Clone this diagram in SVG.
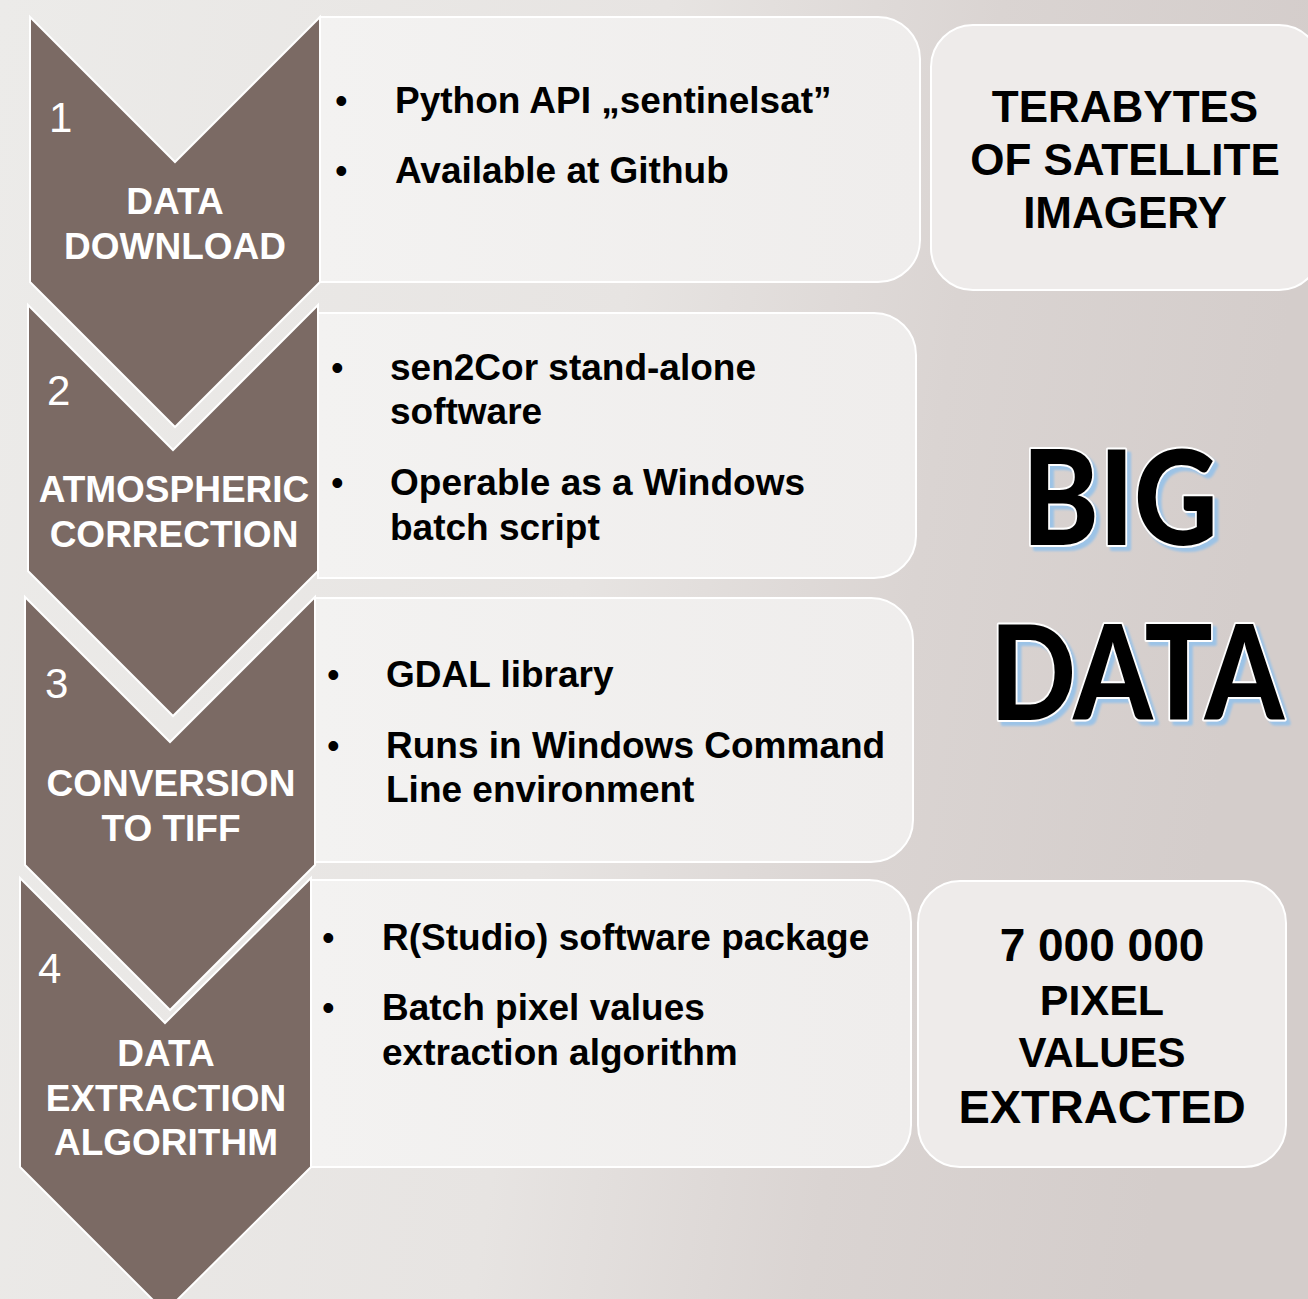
<svg xmlns="http://www.w3.org/2000/svg" width="1308" height="1299" viewBox="0 0 1308 1299">
<defs>
<linearGradient id="bg" x1="0" y1="0" x2="1" y2="0.15">
<stop offset="0" stop-color="#ecebe9"/>
<stop offset="0.5" stop-color="#e7e4e2"/>
<stop offset="0.75" stop-color="#dad4d2"/>
<stop offset="1" stop-color="#d4cdcb"/>
</linearGradient>
<linearGradient id="boxfill" x1="0" y1="0" x2="1" y2="0">
<stop offset="0" stop-color="#f3f2f1"/>
<stop offset="1" stop-color="#efedec"/>
</linearGradient>
<filter id="blueshadow" x="-10%" y="-10%" width="130%" height="130%">
<feFlood flood-color="#9cc3e6" result="c"/>
<feComposite in="c" in2="SourceAlpha" operator="in" result="s"/>
<feOffset in="s" dx="4" dy="4" result="o"/>
<feGaussianBlur in="o" stdDeviation="0.8" result="b"/>
<feMerge><feMergeNode in="b"/><feMergeNode in="SourceGraphic"/></feMerge>
</filter>
</defs>
<style>
.chev{fill:#7b6a64;stroke:#ffffff;stroke-width:2;stroke-linejoin:miter}
.box{fill:url(#boxfill);stroke:#ffffff;stroke-width:2}
.rbox{fill:#eeebea;stroke:#ffffff;stroke-width:2}
.num{font-family:"Liberation Sans",Arial,sans-serif;font-size:42px;fill:#ffffff}
.lab{font-family:"Liberation Sans",Arial,sans-serif;font-size:37px;font-weight:bold;fill:#ffffff;text-anchor:middle}
.bul{font-family:"Liberation Sans",Arial,sans-serif;font-size:36px;fill:#000000}
.txt{font-family:"Liberation Sans",Arial,sans-serif;font-size:37px;font-weight:bold;fill:#000000}
.rt{font-family:"Liberation Sans",Arial,sans-serif;font-weight:bold;fill:#000000;text-anchor:middle}
.big{font-family:Lato,"Open Sans",sans-serif;font-size:132px;font-weight:900;fill:#000000;stroke:#ffffff;stroke-width:4;stroke-linejoin:round;paint-order:stroke}
</style>
<rect x="0" y="0" width="1308" height="1299" fill="url(#bg)"/>

<g id="box1"><path class="box" d="M320,17 H878 A42,42 0 0 1 920,59 V240 A42,42 0 0 1 878,282 H320 Z"/>
<text class="bul" x="335" y="113">•</text><text class="txt" x="395" y="113">Python API „sentinelsat”</text>
<text class="bul" x="335" y="183">•</text><text class="txt" x="395" y="183">Available at Github</text></g>

<g id="box2"><path class="box" d="M318,313 H874 A42,42 0 0 1 916,355 V536 A42,42 0 0 1 874,578 H318 Z"/>
<text class="bul" x="331" y="380">•</text><text class="txt" x="390" y="380">sen2Cor stand-alone</text>
<text class="txt" x="390" y="424">software</text>
<text class="bul" x="331" y="495">•</text><text class="txt" x="390" y="495">Operable as a Windows</text>
<text class="txt" x="390" y="540">batch script</text></g>

<g id="box3"><path class="box" d="M315,598 H871 A42,42 0 0 1 913,640 V820 A42,42 0 0 1 871,862 H315 Z"/>
<text class="bul" x="327" y="687">•</text><text class="txt" x="386" y="687">GDAL library</text>
<text class="bul" x="327" y="758">•</text><text class="txt" x="386" y="758">Runs in Windows Command</text>
<text class="txt" x="386" y="802">Line environment</text></g>

<g id="box4"><path class="box" d="M311,880 H869 A42,42 0 0 1 911,922 V1125 A42,42 0 0 1 869,1167 H311 Z"/>
<text class="bul" x="322" y="950">•</text><text class="txt" x="382" y="950">R(Studio) software package</text>
<text class="bul" x="322" y="1020">•</text><text class="txt" x="382" y="1020">Batch pixel values</text>
<text class="txt" x="382" y="1065">extraction algorithm</text></g>

<g id="chevron4"><polygon class="chev" points="20,878 165,1023 311,878 311,1167 165,1312 20,1167"/>
<text class="num" x="38" y="983">4</text>
<text class="lab" x="166" y="1066">DATA</text><text class="lab" x="166" y="1111">EXTRACTION</text><text class="lab" x="166" y="1155">ALGORITHM</text></g>

<g id="chevron3"><polygon class="chev" points="25,597 170,742 315,597 315,865 170,1010 25,865"/>
<text class="num" x="45" y="698">3</text>
<text class="lab" x="171" y="796">CONVERSION</text><text class="lab" x="171" y="841">TO TIFF</text></g>

<g id="chevron2"><polygon class="chev" points="28,305 173,450 318,305 318,571 173,716 28,571"/>
<text class="num" x="47" y="405">2</text>
<text class="lab" x="174" y="502">ATMOSPHERIC</text><text class="lab" x="174" y="547">CORRECTION</text></g>

<g id="chevron1"><polygon class="chev" points="30,17 175,162 320,17 320,282 175,427 30,282"/>
<text class="num" x="49" y="132">1</text>
<text class="lab" x="175" y="214">DATA</text><text class="lab" x="175" y="259">DOWNLOAD</text></g>

<g id="terabytes"><rect class="rbox" x="931" y="25" width="390" height="265" rx="42" ry="42"/>
<text class="rt" x="1125" y="122" font-size="44">TERABYTES</text>
<text class="rt" x="1125" y="175" font-size="44">OF SATELLITE</text>
<text class="rt" x="1125" y="228" font-size="44">IMAGERY</text></g>

<g id="pixels"><rect class="rbox" x="918" y="881" width="368" height="286" rx="42" ry="42"/>
<text class="rt" x="1102" y="961" font-size="46">7 000 000</text>
<text class="rt" x="1102" y="1015" font-size="43">PIXEL</text>
<text class="rt" x="1102" y="1067" font-size="42">VALUES</text>
<text class="rt" x="1102" y="1123" font-size="47">EXTRACTED</text></g>

<g id="bigdata" filter="url(#blueshadow)">
<text class="big" x="1022" y="545" textLength="196" lengthAdjust="spacingAndGlyphs">BIG</text>
<text class="big" x="990" y="720" textLength="294" lengthAdjust="spacingAndGlyphs">DATA</text>
</g>
</svg>
